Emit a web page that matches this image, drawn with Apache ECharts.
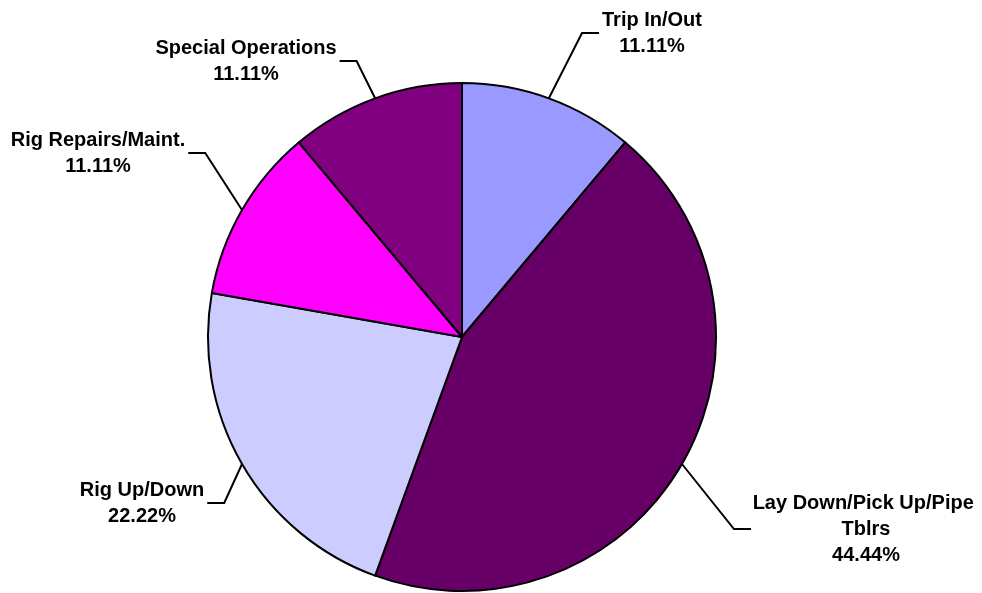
<!DOCTYPE html>
<html>
<head>
<meta charset="utf-8">
<script src="https://cdn.jsdelivr.net/npm/echarts@6/dist/echarts.min.js"></script>
<style>
  html, body { margin: 0; padding: 0; background: #fff; }
  #chart { width: 982px; height: 593px; }
</style>
</head>
<body>
<div id="chart"></div>
<script>
  // slice data, clockwise from 12 o'clock
  var categories = ['Trip In/Out', 'Lay Down/Pick Up/Pipe Tblrs', 'Rig Up/Down', 'Rig Repairs/Maint.', 'Special Operations'];
  var values = [1, 4, 2, 1, 1];
  var colors = ['#9999FF', '#660066', '#CCCCFF', '#FF00FF', '#800080'];

  // where each label block sits (center), px
  var labelPos = [[652, 33], [866, 529], [142, 503], [98, 153], [246, 61]];

  var total = values.reduce(function (a, b) { return a + b; }, 0);

  var chart = echarts.init(document.getElementById('chart'));

  var data = categories.map(function (name, i) {
    var item = { name: name, value: values[i], itemStyle: { color: colors[i] } };
    if (i === 1) {
      item.label = { width: 232, overflow: 'break' };
    }
    return item;
  });

  chart.setOption({
    animation: false,
    backgroundColor: '#fff',
    series: [
      {
        type: 'pie',
        center: [462, 337],
        radius: 254,
        startAngle: 90,
        clockwise: true,
        avoidLabelOverlap: false,
        itemStyle: { borderColor: '#000', borderWidth: 2 },
        label: {
          show: true,
          position: 'outside',
          formatter: function (p) {
            // plain truncation like the source (4/9 -> 44.44%)
            return p.name + '\n' + (Math.floor(p.value / total * 10000) / 100).toFixed(2) + '%';
          },
          fontFamily: 'Liberation Sans',
          fontWeight: 'bold',
          fontSize: 20,
          lineHeight: 26,
          color: '#000'
        },
        labelLine: {
          show: true,
          length: 30,
          length2: 16,
          lineStyle: { color: '#000', width: 2 }
        },
        labelLayout: function (params) {
          var i = params.dataIndex;
          var p = labelPos[i];
          var half = params.labelRect.width / 2;
          if (i === 1) half = 112;
          var right = p[0] > 462;
          var endX = right ? p[0] - half - 3 : p[0] + half + 3;
          var elbowX = right ? endX - 17 : endX + 17;
          var start = params.labelLinePoints ? params.labelLinePoints[0] : null;
          var out = {
            x: p[0],
            y: p[1],
            align: 'center',
            verticalAlign: 'middle'
          };
          if (start) {
            out.labelLinePoints = [start, [elbowX, p[1]], [endX, p[1]]];
          }
          return out;
        },
        data: data
      }
    ]
  });
</script>
</body>
</html>
